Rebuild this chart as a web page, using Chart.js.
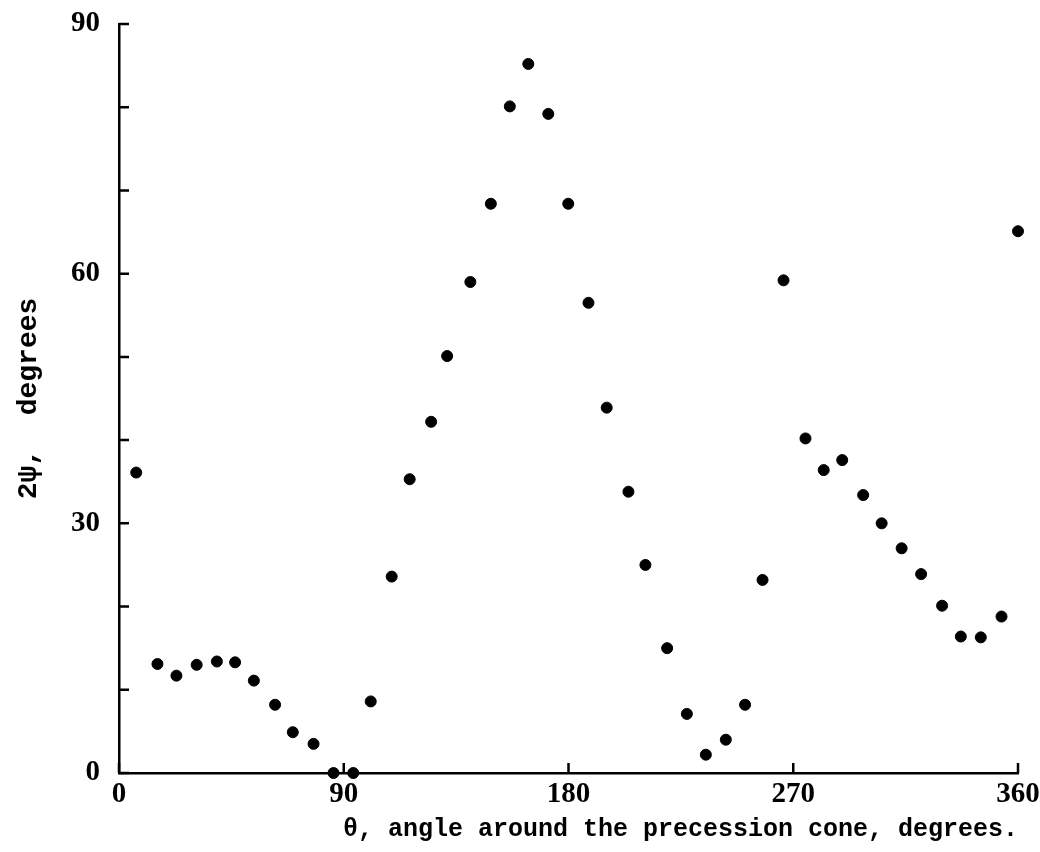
<!DOCTYPE html>
<html>
<head>
<meta charset="utf-8">
<script src="https://cdn.jsdelivr.net/npm/chart.js@4.4.1/dist/chart.umd.min.js"></script>
<style>
  html, body { margin: 0; padding: 0; background: #fff; }
  #wrap { width: 1040px; height: 852px; position: relative; }
</style>
</head>
<body>
<div id="wrap"><canvas id="chart"></canvas></div>
<script>
// theta, angle around the precession cone (deg)
const thetaDeg = [6.9, 15.4, 23.0, 31.1, 39.2, 46.5, 54.0, 62.5, 69.6, 77.9,
  85.9, 93.8, 100.8, 109.2, 116.4, 125.0, 131.4, 140.7, 148.9, 156.5,
  163.9, 171.9, 179.9, 188.0, 195.3, 204.0, 210.8, 219.5, 227.4, 235.0,
  243.0, 250.7, 257.7, 266.1, 274.9, 282.2, 289.6, 298.0, 305.4, 313.4,
  321.2, 329.6, 337.1, 345.1, 353.4, 360]
// 2 psi (deg)
const twoPsiDeg = [36.1, 13.1, 11.7, 13.0, 13.4, 13.3, 11.1, 8.2, 4.9, 3.5,
  0, 0, 8.6, 23.6, 35.3, 42.2, 50.1, 59.0, 68.4, 80.1,
  85.2, 79.2, 68.4, 56.5, 43.9, 33.8, 25.0, 15.0, 7.1, 2.2,
  4.0, 8.2, 23.2, 59.2, 40.2, 36.4, 37.6, 33.4, 30.0, 27.0,
  23.9, 20.1, 16.4, 16.3, 18.8, 65.1]

const xTicks = [0, 90, 180, 270, 360]
const yTicks = [0, 10, 20, 30, 40, 50, 60, 70, 80, 90]
const yLabelled = [0, 30, 60, 90]

const xTitle = 'θ, angle around the precession cone, degrees.'
const yTitle = '2ψ,  degrees'

const points = thetaDeg.map((x, i) => ({ x, y: twoPsiDeg[i] }))

// tick marks drawn inward, like the printed figure
const inwardTicks = {
  id: 'inwardTicks',
  afterDraw(chart) {
    const { ctx, chartArea, scales } = chart
    ctx.save()
    ctx.strokeStyle = '#000'
    ctx.lineWidth = 2.5
    ctx.beginPath()
    yTicks.forEach(v => {
      const y = scales.y.getPixelForValue(v)
      ctx.moveTo(chartArea.left, y)
      ctx.lineTo(chartArea.left + 10, y)
    })
    xTicks.forEach(v => {
      const x = scales.x.getPixelForValue(v)
      ctx.moveTo(x, chartArea.bottom)
      ctx.lineTo(x, chartArea.bottom - 10)
    })
    ctx.stroke()
    ctx.restore()
  },
}

const tickFont = { family: "'Liberation Serif', serif", size: 29, weight: 'bold' }
const titleFont = { family: "'Liberation Mono', monospace", size: 25, weight: 'bold' }

new Chart(document.getElementById('chart'), {
  type: 'scatter',
  data: {
    datasets: [{
      data: points,
      backgroundColor: '#000',
      borderColor: '#000',
      pointRadius: 5.5,
      pointHoverRadius: 5.5,
      clip: false,
    }],
  },
  options: {
    responsive: true,
    maintainAspectRatio: false,
    animation: false,
    layout: { padding: { top: 24, right: 22, bottom: 0, left: 0 } },
    plugins: { legend: { display: false }, tooltip: { enabled: false } },
    scales: {
      x: {
        type: 'linear',
        min: 0,
        max: 360,
        afterBuildTicks: s => { s.ticks = xTicks.map(value => ({ value })) },
        afterFit: s => { s.height = 79; s.paddingLeft = 0; s.paddingRight = 0 },
        ticks: { autoSkip: false, maxRotation: 0, color: '#000', font: tickFont, padding: 4 },
        grid: { drawOnChartArea: false, drawTicks: false },
        border: { display: true, color: '#000', width: 2.5 },
        title: {
          display: true, text: xTitle, align: 'end', color: '#000',
          font: titleFont, padding: { top: 0, bottom: 7 },
        },
      },
      y: {
        type: 'linear',
        min: 0,
        max: 90,
        afterBuildTicks: s => { s.ticks = yTicks.map(value => ({ value })) },
        afterFit: s => { s.width = 119; s.paddingTop = 0; s.paddingBottom = 0 },
        ticks: {
          autoSkip: false, color: '#000', font: tickFont, padding: 19,
          callback: v => (yLabelled.includes(v) ? String(v) : ''),
        },
        grid: { drawOnChartArea: false, drawTicks: false },
        border: { display: true, color: '#000', width: 2.5 },
        title: {
          display: true, text: yTitle, color: '#000',
          font: { family: "'Liberation Mono', monospace", size: 28, weight: 'bold' },
          padding: { top: 12, bottom: 0 },
        },
      },
    },
  },
  plugins: [inwardTicks],
})
</script>
</body>
</html>
